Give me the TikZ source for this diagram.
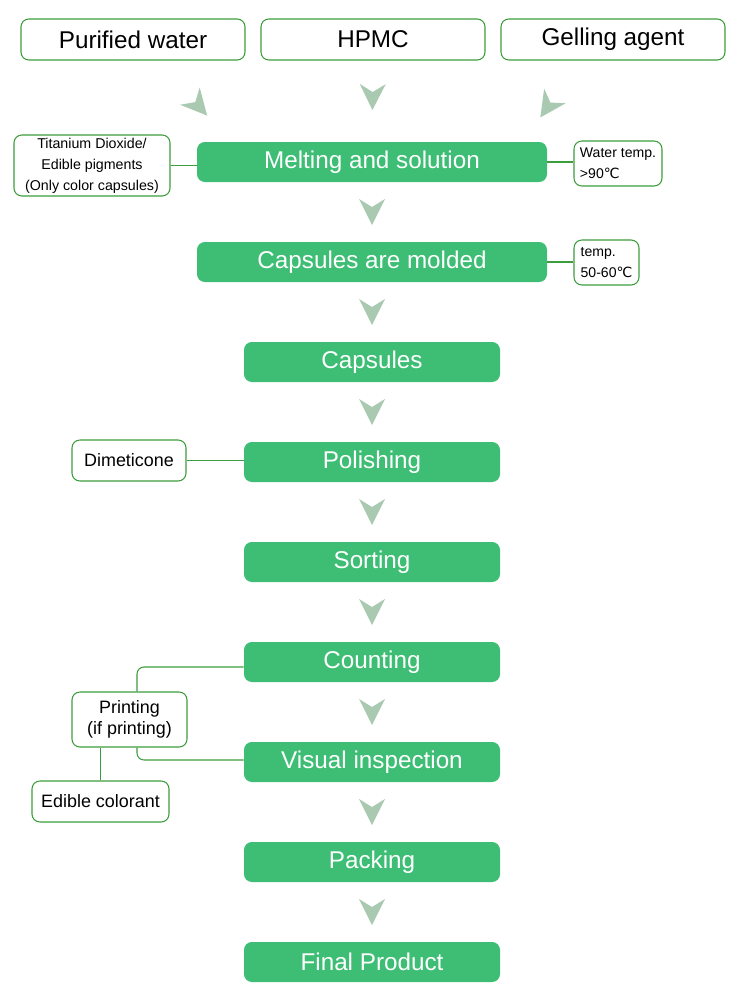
\documentclass[tikz,border=0pt]{standalone}
\usepackage{fontspec}
\setmainfont{Liberation Sans}
\newfontfamily\degfont{DejaVu Sans}
\newcommand{\degc}{{\degfont ℃}}
\usetikzlibrary{decorations.markings}

\definecolor{stepgreen}{HTML}{3DBE74}
\definecolor{linegreen}{HTML}{3C9D3C}
\definecolor{chevgreen}{HTML}{A9C9B1}

\begin{document}
\begin{tikzpicture}[
		stepbox/.style={
			fill=stepgreen, text=white, rounded corners=4.5pt,
			minimum height=0.8cm, inner sep=0pt,
			font=\fontsize{13.8}{16}\selectfont,
		},
		widebox/.style={stepbox, minimum width=7cm},
		narrowbox/.style={stepbox, minimum width=5.12cm},
		inputbox/.style={
			draw=linegreen, line width=0.6pt, rounded corners=4.5pt,
			minimum width=4.48cm, minimum height=0.82cm, inner sep=0pt,
			font=\fontsize{13.8}{16}\selectfont,
		},
		note/.style={
			draw=linegreen, line width=0.6pt, rounded corners=4.5pt,
			inner sep=0pt, font=\fontsize{10.2}{12}\selectfont,
		},
		link/.style={draw=linegreen, line width=0.6pt},
		chev/.style={
			decoration={markings, mark=at position #1 with {
				\fill[chevgreen] (0.26,0) -- (-0.26,0.26) -- (-0.1,0) -- (-0.26,-0.26) -- cycle;}},
			postaction={decorate},
		},
		chev/.default=0.5,
		]
		
		\useasboundingbox (0,0) rectangle (15,-20.12);
		
		% raw materials
		\node[inputbox] (water)  at (2.66, -0.79)  {Purified water};
		\node[inputbox] (hpmc)   at (7.46, -0.79)  {HPMC};
		\node[inputbox] (gel)    at (12.26,-0.79)  {Gelling agent};
		
		% process steps
		\node[widebox]   (melt)    at (7.44, -3.24)  {Melting and solution};
		\node[widebox]   (molded)  at (7.44, -5.24)  {Capsules are molded};
		\node[narrowbox] (caps)    at (7.44, -7.24)  {Capsules};
		\node[narrowbox] (polish)  at (7.44, -9.24)  {Polishing};
		\node[narrowbox] (sort)    at (7.44,-11.24)  {Sorting};
		\node[narrowbox] (count)   at (7.44,-13.24)  {Counting};
		\node[narrowbox] (visual)  at (7.44,-15.24)  {Visual inspection};
		\node[narrowbox] (pack)    at (7.44,-17.24)  {Packing};
		\node[narrowbox] (final)   at (7.44,-19.24)  {Final Product};
		
		% side notes
		\node[note, minimum width=3.12cm, minimum height=1.22cm, align=center,
			font=\fontsize{8.1}{11.95}\selectfont] (tio2) at (1.84,-3.31)
			{Titanium Dioxide/\\Edible pigments\\(Only color capsules)};
		\node[note, minimum width=1.76cm, minimum height=0.9cm, align=left,
			font=\fontsize{8}{11.95}\selectfont] (wtemp) at (12.36,-3.27)
			{Water temp.\\>90\degc};
		\node[note, minimum width=1.3cm, minimum height=0.9cm, align=left,
			font=\fontsize{8}{11.95}\selectfont] (mtemp) at (12.13,-5.25)
			{temp.\\50-60\degc};
		\node[note, minimum width=2.28cm, minimum height=0.82cm] (dimet) at (2.58,-9.21) {Dimeticone};
		\node[note, minimum width=2.3cm, minimum height=1.1cm, align=center] (print) at (2.59,-14.39)
			{Printing\\(if printing)};
		\node[note, minimum width=2.74cm, minimum height=0.82cm] (color) at (2.01,-16.03) {Edible colorant};
		
		% chevrons
		\path[chev=0.56] ([xshift=0.51cm]water.south) -- ([xshift=0.67cm]melt.north west);
		\path[chev=0.45] (hpmc.south) -- (melt.north);
		\path[chev=0.57] ([xshift=-0.68cm]gel.south) -- ([xshift=-0.47cm]melt.north east);
		\path[chev] (melt)   -- (molded);
		\path[chev] (molded) -- (caps);
		\path[chev] (caps)   -- (polish);
		\path[chev] (polish) -- (sort);
		\path[chev] (sort)   -- (count);
		\path[chev] (count)  -- (visual);
		\path[chev] (visual) -- (pack);
		\path[chev] (pack)   -- (final);
		
		% links
		\draw[link] (tio2.east) -- (tio2.east -| melt.west);
		\draw[link] (melt.east) -- (melt.east -| wtemp.west);
		\draw[link] (molded.east) -- (molded.east -| mtemp.west);
		\draw[link] (dimet.east) -- (dimet.east -| polish.west);
		\draw[link, rounded corners=4pt] ([xshift=0.15cm]print.north) |- ([yshift=-0.1cm]count.west);
		\draw[link, rounded corners=4pt] ([xshift=0.15cm]print.south) |- ([yshift=0.04cm]visual.west);
		\draw[link] (color.north) -- (color.north |- print.south);
		
	\end{tikzpicture}
\end{document}
